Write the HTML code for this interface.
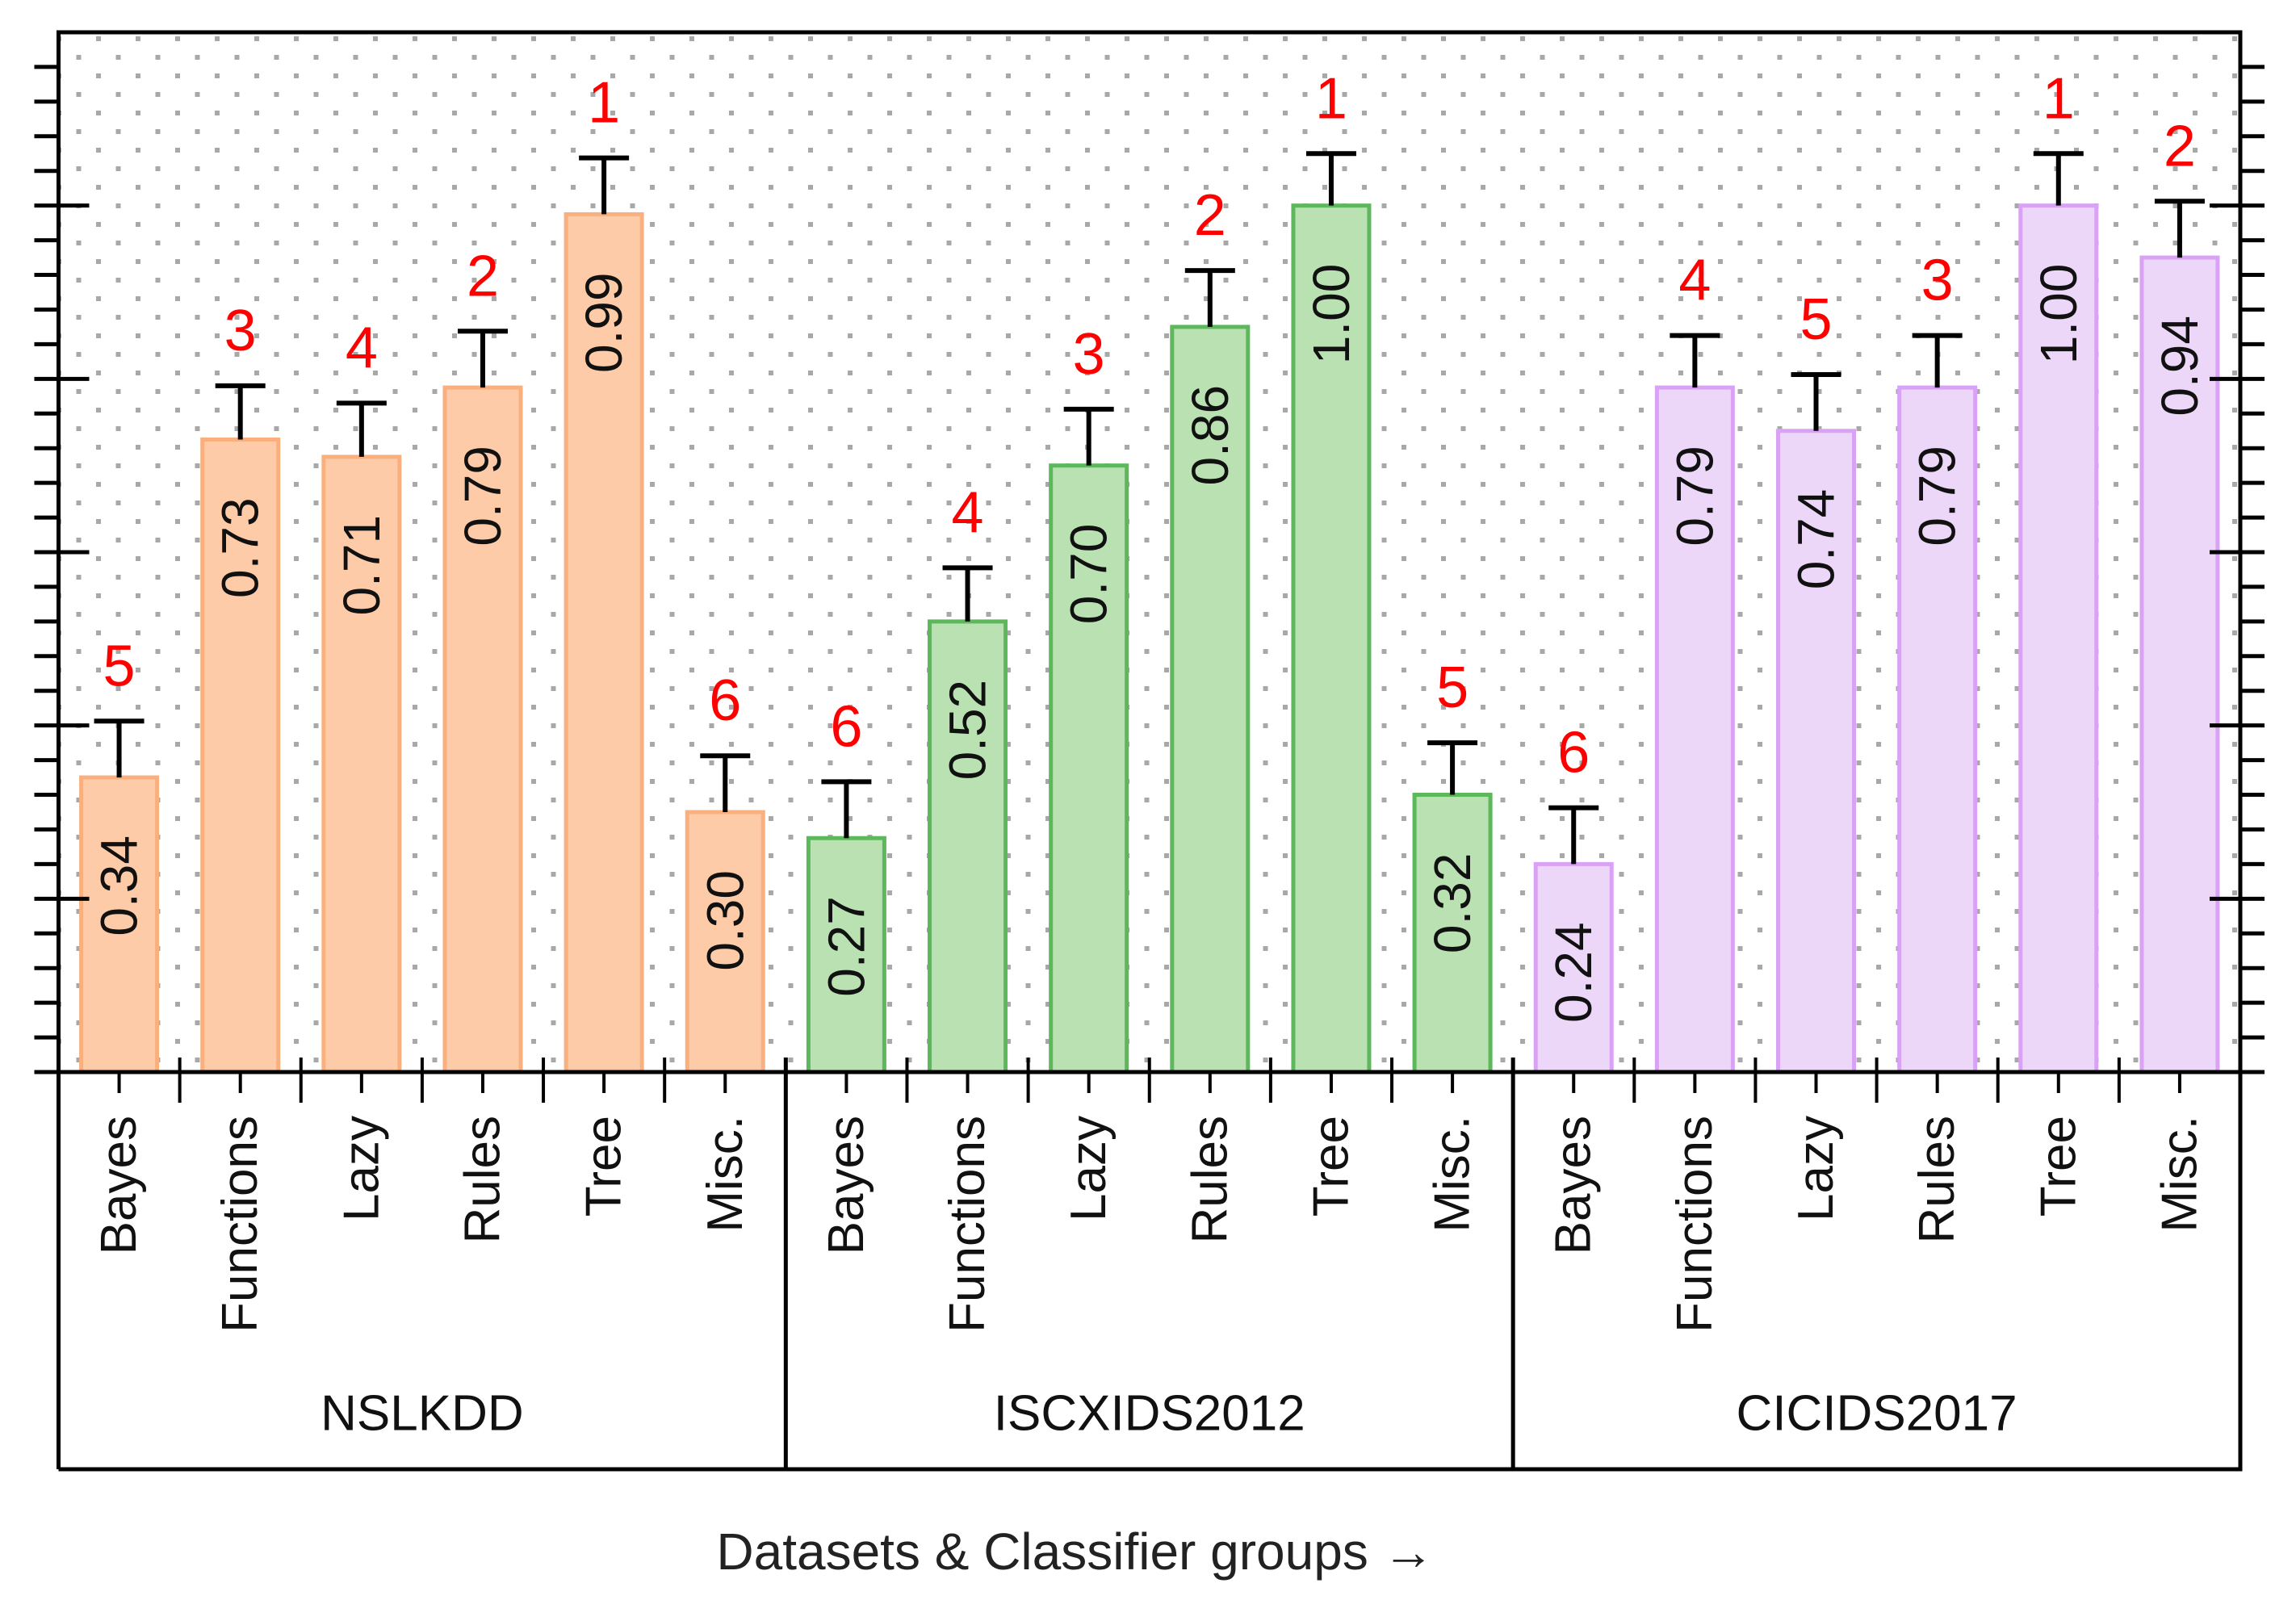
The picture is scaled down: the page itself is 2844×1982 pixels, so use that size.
<!DOCTYPE html>
<html><head><meta charset="utf-8"><style>
html,body{margin:0;padding:0;background:#fff}
svg{display:block}
text{font-family:"Liberation Sans","DejaVu Sans",sans-serif}
</style></head><body>
<svg id="chart" xmlns="http://www.w3.org/2000/svg" width="2844" height="1982" viewBox="0 0 2844 1982">
<defs>
<pattern id="dots" x="0" y="-10" width="49" height="46" patternUnits="userSpaceOnUse">
<rect x="21" y="9" width="6" height="6" fill="#a8a8a8"/>
<rect x="45.5" y="32" width="6" height="6" fill="#a8a8a8"/>
<rect x="-3.5" y="32" width="6" height="6" fill="#a8a8a8"/>
</pattern>
</defs>
<rect x="72" y="40" width="2703" height="1288" fill="url(#dots)"/>
<g id="bars"></g>
<g id="axes"></g>
</svg>
<script>
const datasets = ["NSLKDD", "ISCXIDS2012", "CICIDS2017"];
const categories = ["Bayes", "Functions", "Lazy", "Rules", "Tree", "Misc."];
const valuesNSLKDD = [0.34, 0.73, 0.71, 0.79, 0.99, 0.30];
const valuesISCX = [0.27, 0.52, 0.70, 0.86, 1.00, 0.32];
const valuesCIC = [0.24, 0.79, 0.74, 0.79, 1.00, 0.94];
const errNSLKDD = [0.065, 0.062, 0.062, 0.065, 0.065, 0.065];
const errISCX = [0.065, 0.062, 0.065, 0.065, 0.06, 0.06];
const errCIC = [0.065, 0.06, 0.065, 0.06, 0.06, 0.065];
const rankNSLKDD = [5, 3, 4, 2, 1, 6];
const rankISCX = [6, 4, 3, 2, 1, 5];
const rankCIC = [6, 4, 5, 3, 1, 2];
const valueLabelsNSLKDD = ["0.34", "0.73", "0.71", "0.79", "0.99", "0.30"];
const valueLabelsISCX = ["0.27", "0.52", "0.70", "0.86", "1.00", "0.32"];
const valueLabelsCIC = ["0.24", "0.79", "0.74", "0.79", "1.00", "0.94"];

const NS = "http://www.w3.org/2000/svg";
const L = 72.5, R = 2775, T = 40, B = 1328, BOX = 1820;
const yMax = 1.2;
const nSlots = 18, slotW = (R - L) / nSlots, barW = 94;
function y(v){ return B - v / yMax * (B - T); }
function xc(i){ return L + slotW * (i + 0.5); }
function mk(tag, attrs, parent){ const e = document.createElementNS(NS, tag); for (const k in attrs) e.setAttribute(k, attrs[k]); parent.appendChild(e); return e; }

const fills = ["#fdcba8", "#b9e1b2", "#ecd7f8"];
const strokes = ["#f9b07e", "#5cb85a", "#d9a2f4"];
const allVals = [valuesNSLKDD, valuesISCX, valuesCIC];
const allErr = [errNSLKDD, errISCX, errCIC];
const allRank = [rankNSLKDD, rankISCX, rankCIC];
const allLab = [valueLabelsNSLKDD, valueLabelsISCX, valueLabelsCIC];
const gb = document.getElementById("bars");
const ga = document.getElementById("axes");

for (let d = 0; d < 3; d++) {
  for (let c = 0; c < 6; c++) {
    const i = d * 6 + c, cx = xc(i), v = allVals[d][c], top = y(v), et = y(v + allErr[d][c]);
    const bar = mk("rect", {x: cx - barW/2, y: top, width: barW, height: B - top, fill: fills[d], stroke: strokes[d], "stroke-width": 5}, gb);
    
    
    const eb = mk("path", {d: `M${cx},${top} V${et} M${cx-31},${et} H${cx+31}`, stroke: "#000", "stroke-width": 6, fill: "none"}, gb);
    
    
    const vt = mk("text", {x: 0, y: 0, transform: `translate(${cx},${top + 72}) rotate(-90)`, "font-size": 64, fill: "#111", "text-anchor": "end", "dominant-baseline": "central"}, gb);
    vt.textContent = allLab[d][c];
    
    
    const rt = mk("text", {x: cx, y: et - 44, "font-size": 72, fill: "#ff0000", "text-anchor": "middle"}, gb);
    rt.textContent = allRank[d][c];
    
    
    const ct = mk("text", {x: 0, y: 0, transform: `translate(${cx},1382) rotate(-90)`, "font-size": 62, fill: "#111", "text-anchor": "end", "dominant-baseline": "central"}, ga);
    ct.textContent = categories[c];
    
    
    const tk = mk("line", {x1: cx, y1: B, x2: cx, y2: B + 26, stroke: "#000", "stroke-width": 4}, ga);
    
    
    if (c < 5) {
      const sx = L + slotW * (i + 1);
      const st = mk("line", {x1: sx, y1: B - 18, x2: sx, y2: B + 38, stroke: "#000", "stroke-width": 4}, ga);
      
      
    }
  }
  const gx0 = L + slotW * 6 * d, gx1 = L + slotW * 6 * (d + 1);
  const gt = mk("text", {x: (gx0 + gx1) / 2, y: 1751, "font-size": 62, fill: "#111", "text-anchor": "middle", "dominant-baseline": "central"}, ga);
  gt.textContent = datasets[d];
  
  
  if (d > 0) {
    const dl = mk("line", {x1: gx0, y1: B - 18, x2: gx0, y2: BOX, stroke: "#000", "stroke-width": 5}, ga);
    
    
  }
}
for (let k = 0; k < 30; k++) {
  const v = k * 0.04, yy = y(v), major = k % 5 === 0;
  const lt = mk("line", {x1: L - 30, y1: yy, x2: major ? L + 38 : L, y2: yy, stroke: "#000", "stroke-width": 5}, ga);
  
  
  const rt = mk("line", {x1: major ? R - 38 : R, y1: yy, x2: R + 30, y2: yy, stroke: "#000", "stroke-width": 5}, ga);
  
  
}
const frame = mk("path", {d: `M${L},${BOX} V${T} H${R} V${BOX} H${L} M${L-30},${B} H${R+30}`, stroke: "#000", "stroke-width": 5, fill: "none"}, ga);


const title = mk("text", {x: 1332, y: 1922, "font-size": 64, fill: "#222", "text-anchor": "middle", "dominant-baseline": "central"}, ga);
title.textContent = "Datasets & Classifier groups \u2192";


</script>
</body></html>
